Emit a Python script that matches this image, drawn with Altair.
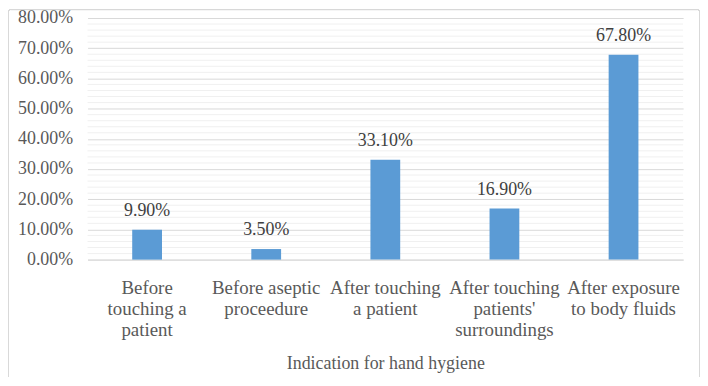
import altair as alt
import pandas as pd

categories = [
    "Before|touching a|patient",
    "Before aseptic|proceedure",
    "After touching|a patient",
    "After touching|patients'|surroundings",
    "After exposure|to body fluids",
]
values = [9.9, 3.5, 33.1, 16.9, 67.8]
minor_ticks = [v for v in range(0, 81, 2) if v % 10 != 0]
major_ticks = list(range(0, 81, 10))

df = pd.DataFrame({"cat": categories, "val": values,
                   "label": [f"{v:.2f}%" for v in values]})
minor_df = pd.DataFrame({"v": minor_ticks})

FONT = "Liberation Serif, Times New Roman, Times, serif"
FS = 18
yscale = alt.Scale(domain=[0, 80], nice=False)
xscale = alt.Scale(paddingInner=0.75, paddingOuter=0.375)

xaxis = alt.Axis(title="Indication for hand hygiene", labelAngle=0,
                 labelExpr="split(datum.label, '|')",
                 labelFont=FONT, labelFontSize=19, labelColor="#595959",
                 labelLineHeight=21, labelPadding=19, tickSize=0,
                 domainColor="#d9d9d9", labelBaseline="top",
                 labelOverlap=False,
                 titleFont=FONT, titleFontSize=FS, titleFontWeight="normal",
                 titleColor="#595959", titlePadding=16)
yaxis = alt.Axis(title=None, values=major_ticks,
                 labelExpr="format(datum.value, '.2f') + '%'",
                 labelFont=FONT, labelFontSize=FS, labelColor="#595959",
                 labelPadding=15, tickSize=0, domain=False,
                 labelOverlap=False, labelFlush=False,
                 gridColor="#d9d9d9")

minor = alt.Chart(minor_df).mark_rule(color="#f0f0f0", strokeWidth=1).encode(
    y=alt.Y("v:Q", scale=yscale, axis=yaxis)
)

bars = alt.Chart(df).mark_bar(color="#5B9BD5").encode(
    x=alt.X("cat:N", sort=categories, scale=xscale, axis=xaxis),
    y=alt.Y("val:Q", scale=yscale, axis=yaxis),
)

text = alt.Chart(df).mark_text(font=FONT, fontSize=FS, color="#404040",
                               fontWeight="normal",
                               baseline="alphabetic", dy=-14).encode(
    x=alt.X("cat:N", sort=categories, scale=xscale, axis=xaxis),
    y=alt.Y("val:Q", scale=yscale, axis=yaxis),
    text="label:N",
)

border = alt.Chart(df).mark_rect(fill=None, stroke="#d9d9d9", strokeWidth=1,
                                 cornerRadius=2).encode(
    x=alt.value(-79.5), x2=alt.value(615.5), y=alt.value(-8.5), y2=alt.value(363.5)
)

chart = alt.layer(minor, bars, text, border).properties(
    width=599, height=243,
    autosize=alt.AutoSizeParams(type="none"),
    padding={"left": 80, "top": 9, "right": 17, "bottom": 117},
).configure(background="white", font=FONT,
            view=alt.ViewConfig(strokeWidth=0, stroke="transparent"))

chart.save("out.html", embed_options={"renderer": "svg", "actions": False})
